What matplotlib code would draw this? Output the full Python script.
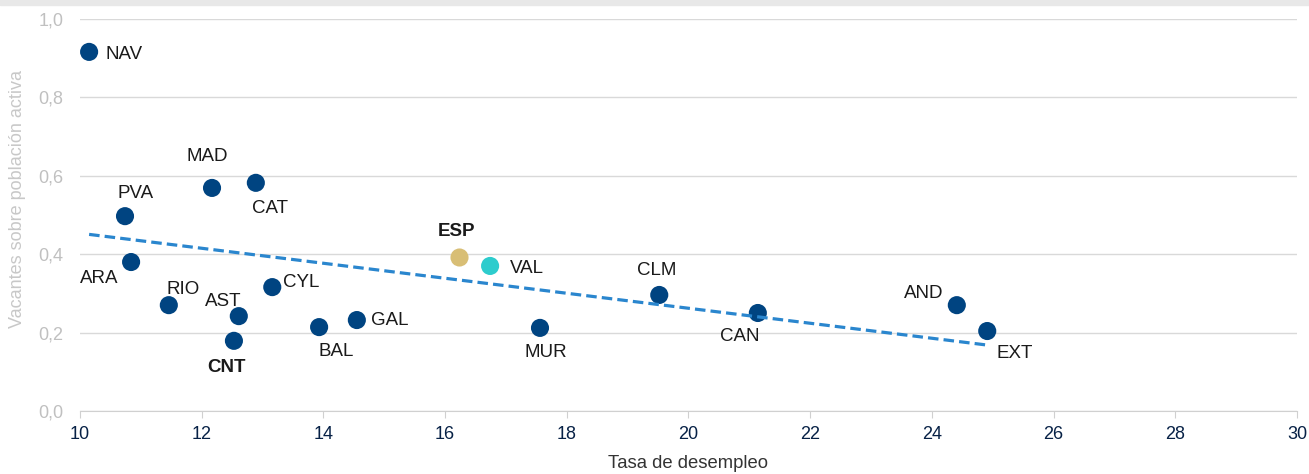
import numpy as np
import matplotlib
matplotlib.use("Agg")
import matplotlib.pyplot as plt

plt.rcParams['font.family'] = ['Liberation Sans', 'DejaVu Sans']

regions = ["NAV", "PVA", "ARA", "MAD", "CAT", "RIO", "AST", "CNT", "CYL",
           "BAL", "GAL", "VAL", "MUR", "CLM", "CAN", "AND", "EXT"]
unemployment = [10.15, 10.74, 10.84, 12.17, 12.89, 11.46, 12.61, 12.53, 13.16,
                13.93, 14.55, 16.74, 17.56, 19.52, 21.14, 24.41, 24.91]
vacancies = [0.916, 0.497, 0.38, 0.569, 0.582, 0.27, 0.242, 0.179, 0.316,
             0.214, 0.232, 0.37, 0.212, 0.296, 0.25, 0.27, 0.204]
esp_label = "ESP"
esp_x = 16.23
esp_y = 0.393

xticks = [10, 12, 14, 16, 18, 20, 22, 24, 26, 28, 30]
yticks = [0.0, 0.2, 0.4, 0.6, 0.8, 1.0]

# label offsets in pixels (dx, dy) from point centre to text centre
offsets = {
    "NAV": (35, -3), "PVA": (11, 23), "ARA": (-32, -16), "MAD": (-5, 31),
    "CAT": (14, -26), "RIO": (14, 16), "AST": (-16, 15), "CNT": (-7, -27),
    "CYL": (29, 5), "BAL": (17, -24), "GAL": (33, 0), "VAL": (37, -3),
    "MUR": (6, -25), "CLM": (-3, 24), "CAN": (-18, -24), "AND": (-33, 12),
    "EXT": (27, -22), "ESP": (-3, 25),
}
bold = {"CNT", "ESP"}

fig = plt.figure(figsize=(13.09, 4.74), dpi=100)
fig.patches.append(plt.Rectangle((0, 0.99), 1, 0.01, transform=fig.transFigure,
                                 color="#e8e8e8", zorder=0))
ax = fig.add_axes([0.0611, 0.1329, 0.9297, 0.8271])

blue = "#004481"
ax.set_xlim(10, 30)
ax.set_ylim(0, 1.0)

# trend line
xs = np.array(unemployment)
ys = np.array(vacancies)
coef = np.polyfit(xs, ys, 1)
tx = np.array([xs.min(), xs.max()])
ax.plot(tx, np.polyval(coef, tx), ls=(0, (3.3, 1.6)), color="#2A86CE", lw=2.3, zorder=4)

colors = [blue] * len(regions)
colors[regions.index("VAL")] = "#2DCCCD"
ax.scatter(unemployment, vacancies, s=170, c=colors, zorder=3, linewidths=0)
ax.scatter([esp_x], [esp_y], s=170, c="#D8BE75", zorder=3, linewidths=0)

for name, x, y in list(zip(regions, unemployment, vacancies)) + [(esp_label, esp_x, esp_y)]:
    dx, dy = offsets[name]
    ax.annotate(name, (x, y), xytext=(dx, dy), textcoords="offset pixels",
                ha="center", va="center", fontsize=13.5, color="#1a1a1a",
                fontweight="bold" if name in bold else "normal", zorder=5)

ax.set_xticks(xticks)
ax.set_xticklabels([str(t) for t in xticks])
ax.set_yticks(yticks)
ax.set_yticklabels([f"{t:.1f}".replace(".", ",") for t in yticks])
ax.grid(axis="y", color="#d9d9d9", lw=1)
ax.set_axisbelow(True)
for s in ["top", "right", "left"]:
    ax.spines[s].set_visible(False)
ax.spines["bottom"].set_color("#d0d0d0")
ax.tick_params(axis="x", colors="#d0d0d0", labelcolor="#072146", labelsize=13,
               length=5, pad=6)
ax.tick_params(axis="y", length=0, labelcolor="#c0c0c0", labelsize=13, pad=12)
ax.set_xlabel("Tasa de desempleo", fontsize=13.3, color="#333333")
ax.xaxis.set_label_coords(0.5, -0.112)
ax.set_ylabel("Vacantes sobre población activa", fontsize=13, color="#c8c8c8")
ax.yaxis.set_label_coords(-0.044, 0.541)

fig.savefig("out.png", dpi=100)
